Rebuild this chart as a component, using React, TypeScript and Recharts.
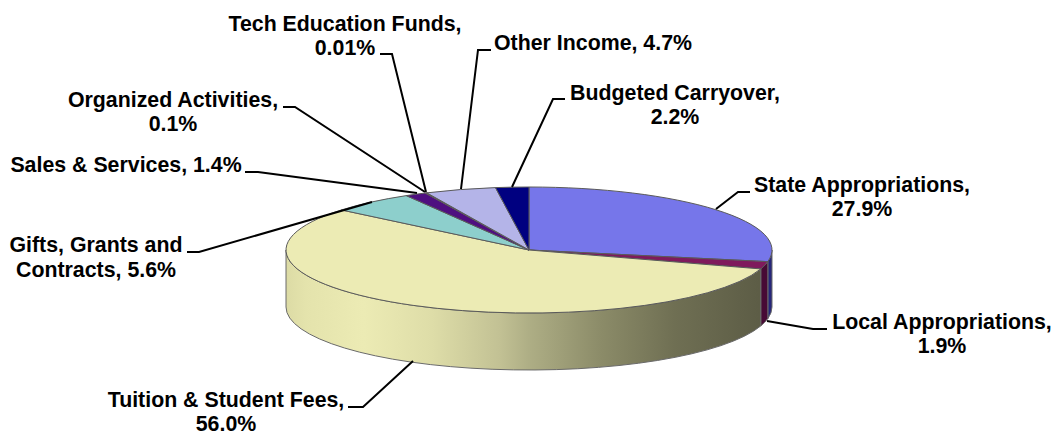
import React from "react";
import { PieChart, Pie, Cell } from "recharts";

const categories = [
  "State Appropriations",
  "Local Appropriations",
  "Tuition & Student Fees",
  "Gifts, Grants and Contracts",
  "Sales & Services",
  "Organized Activities",
  "Tech Education Funds",
  "Other Income",
  "Budgeted Carryover",
];
const shares = [27.9, 1.9, 56.0, 5.6, 1.4, 0.1, 0.01, 4.7, 2.2];
const data = categories.map((name, i) => ({ name, value: shares[i] }));

const topColors = ["#7676ea", "#7f1a5c", "#ecebb4", "#8dcfcc", "#4f0f80", "#d86a6a", "#0055aa", "#b4b4e8", "#000080"];
const sideFills = ["#26267a", "#470a35", "url(#tuitionSide)", "#6f9a98", "#300a50", "#803f3f", "#003366", "#6f6f90", "#000050"];

// label text lines (x = centre, y = baseline) and leader polylines, in page pixels
const labelLayout = [
  { x: 862, y: [192, 216], lines: ["State Appropriations,", "27.9%"], leader: "716,209 738,192 750,192" },
  { x: 942, y: [329, 353], lines: ["Local Appropriations,", "1.9%"], leader: "767,321 813,329 827,329" },
  { x: 226, y: [407, 430.5], lines: ["Tuition & Student Fees,", "56.0%"], leader: "413,361 363,407 348,407" },
  { x: 96, y: [252, 277], lines: ["Gifts, Grants and", "Contracts, 5.6%"], leader: "372,202 199,252 187,252" },
  { x: 126, y: [172], lines: ["Sales & Services, 1.4%"], leader: "417,193 258,172 245,172" },
  { x: 173, y: [107, 131], lines: ["Organized Activities,", "0.1%"], leader: "425,192 295,107 283,107" },
  { x: 345, y: [31, 55], lines: ["Tech Education Funds,", "0.01%"], leader: "426,192 392,54 380,54" },
  { x: 593, y: [50], lines: ["Other Income, 4.7%"], leader: "461,189 478,50 491,50" },
  { x: 675, y: [100, 124], lines: ["Budgeted Carryover,", "2.2%"], leader: "512,187 553,99 565,99" },
];

const CX = 529;
const CY = 250;
const RX = 243;
const RY = 63;
const DEPTH = 57;
const SQUASH = RY / RX;
const RAD = Math.PI / 180;

const pt = (cx: number, cy: number, r: number, a: number) => [
  cx + r * Math.cos(a * RAD),
  cy - r * SQUASH * Math.sin(a * RAD),
];

const TopSlice = (p: any) => {
  const { cx, cy, outerRadius: r, startAngle, endAngle, fill } = p;
  const [x1, y1] = pt(cx, cy, r, startAngle);
  const [x2, y2] = pt(cx, cy, r, endAngle);
  const large = Math.abs(startAngle - endAngle) > 180 ? 1 : 0;
  const d = `M${cx},${cy} L${x1},${y1} A${r},${r * SQUASH} 0 ${large} 1 ${x2},${y2} Z`;
  return <path d={d} fill={fill} stroke="#5a5a5a" strokeWidth={1} strokeLinejoin="round" />;
};

const SideSlice = (p: any) => {
  const { cx, cy, outerRadius: r, startAngle, endAngle } = p;
  const name = p.name ?? p.payload?.name;
  const s = Math.min(startAngle, 0);
  const e = Math.max(endAngle, -180);
  if (s <= e) return <g />;
  const [x1, y1] = pt(cx, cy, r, s);
  const [x2, y2] = pt(cx, cy, r, e);
  const d = `M${x1},${y1} A${r},${r * SQUASH} 0 0 1 ${x2},${y2} L${x2},${y2 + DEPTH} A${r},${r * SQUASH} 0 0 0 ${x1},${y1 + DEPTH} Z`;
  return <path d={d} fill={sideFills[categories.indexOf(name)]} stroke="#6a6a6a" strokeWidth={1} />;
};

const renderLabel = (p: any) => {
  const i = categories.indexOf(p.name ?? p.payload?.name);
  const l = labelLayout[i];
  return (
    <g>
      <polyline points={l.leader} fill="none" stroke="#000" strokeWidth={2} />
      {l.lines.map((t, k) => (
        <text
          key={k}
          x={l.x}
          y={l.y[k]}
          textAnchor="middle"
          fontFamily="'Liberation Sans', Arial, sans-serif"
          fontWeight={700}
          fontSize={21.33}
          fill="#000"
        >
          {t}
        </text>
      ))}
    </g>
  );
};

export default function App() {
  return (
    <div style={{ position: "absolute", left: 0, top: 0, width: 1052, height: 432, background: "#fff", overflow: "hidden" }}>
      <PieChart width={1052} height={432} margin={{ top: 0, right: 0, bottom: 0, left: 0 }}>
        <defs>
          <linearGradient id="tuitionSide" gradientUnits="userSpaceOnUse" x1={286} y1={0} x2={772} y2={0}>
            <stop offset="0" stopColor="#dcdba5" />
            <stop offset="0.04" stopColor="#e4e3ac" />
            <stop offset="0.16" stopColor="#ecebb4" />
            <stop offset="0.3" stopColor="#dedda8" />
            <stop offset="0.44" stopColor="#c2c194" />
            <stop offset="0.5" stopColor="#aeae85" />
            <stop offset="0.65" stopColor="#8b8b68" />
            <stop offset="0.8" stopColor="#6f6f53" />
            <stop offset="1" stopColor="#5a5a44" />
          </linearGradient>
        </defs>
        <Pie
          data={data}
          dataKey="value"
          nameKey="name"
          cx={CX}
          cy={CY}
          innerRadius={0}
          outerRadius={RX}
          startAngle={90}
          endAngle={-270}
          stroke="none"
          shape={SideSlice}
          label={false}
          labelLine={false}
          legendType="none"
          isAnimationActive={false}
        />
        <Pie
          data={data}
          dataKey="value"
          nameKey="name"
          cx={CX}
          cy={CY}
          innerRadius={0}
          outerRadius={RX}
          startAngle={90}
          endAngle={-270}
          shape={TopSlice}
          label={renderLabel}
          labelLine={false}
          isAnimationActive={false}
        >
          {topColors.map((c, i) => (
            <Cell key={i} fill={c} />
          ))}
        </Pie>
      </PieChart>
    </div>
  );
}
